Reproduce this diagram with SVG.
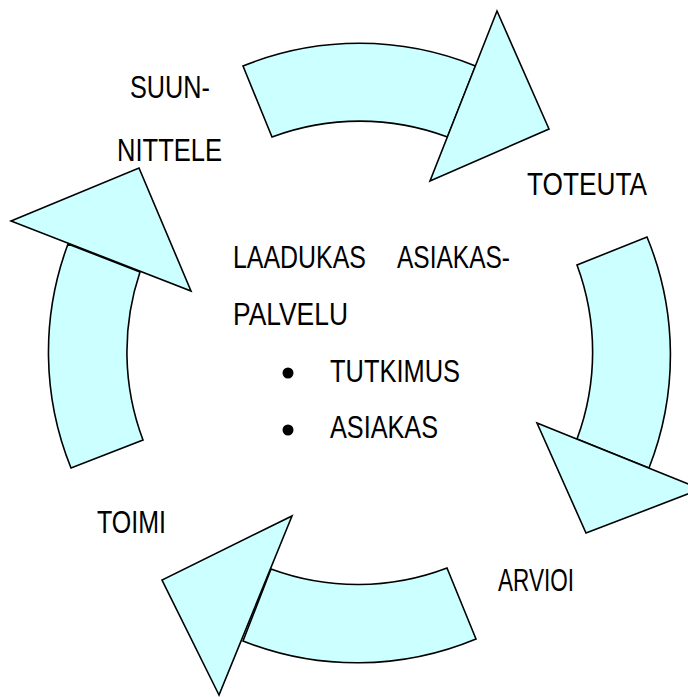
<svg xmlns="http://www.w3.org/2000/svg" width="688" height="697" viewBox="0 0 688 697">
<style>
.arrow{fill:#CCFFFF;stroke:#000;stroke-width:1.6;stroke-linejoin:miter}
.t{font-family:"Liberation Sans",Arial,sans-serif;font-size:32px;fill:#000}
</style>
<rect width="688" height="697" fill="#fff"/>
<g id="connectors">
<g id="arrow-top">
<path class="arrow" d="M243 66 A309 309 0 0 1 475.5 66 L447.5 137 A250 250 0 0 0 272 137 Z"/>
<path class="arrow" d="M497 11 L549 129 L430 181 Z"/>
</g>
<g id="arrow-right">
<path class="arrow" d="M647 237 A309 309 0 0 1 649 468 L577 439 A250 250 0 0 0 577 265 Z"/>
<path class="arrow" d="M701 489 L586 533 L537 423 Z"/>
</g>
<g id="arrow-bottom">
<path class="arrow" d="M476 639 A309 309 0 0 1 243 641 L271 569 A250 250 0 0 0 447 568 Z"/>
<path class="arrow" d="M219 695 L162 580 L292 516 Z"/>
</g>
<g id="arrow-left">
<path class="arrow" d="M71 468 A309 309 0 0 1 68 244 L140 272 A250 250 0 0 0 143 440 Z"/>
<path class="arrow" d="M11 221 L139 168 L191 291 Z"/>
</g>
</g>
<g id="node-suunnittele">
<text class="t" x="130" y="98" textLength="80" lengthAdjust="spacingAndGlyphs">SUUN-</text>
<text class="t" x="117" y="161" textLength="105" lengthAdjust="spacingAndGlyphs">NITTELE</text>
</g>
<g id="node-toteuta"><text class="t" x="527" y="195" textLength="120" lengthAdjust="spacingAndGlyphs">TOTEUTA</text></g>
<g id="node-arvioi"><text class="t" x="498" y="591" textLength="76" lengthAdjust="spacingAndGlyphs">ARVIOI</text></g>
<g id="node-toimi"><text class="t" x="97" y="533" textLength="69" lengthAdjust="spacingAndGlyphs">TOIMI</text></g>
<g id="node-center">
<text class="t" x="233" y="268" textLength="133" lengthAdjust="spacingAndGlyphs">LAADUKAS</text>
<text class="t" x="397" y="268" textLength="113" lengthAdjust="spacingAndGlyphs">ASIAKAS-</text>
<text class="t" x="233" y="325" textLength="115" lengthAdjust="spacingAndGlyphs">PALVELU</text>
<circle cx="288" cy="373" r="5.5" fill="#000"/>
<text class="t" x="330" y="382" textLength="130" lengthAdjust="spacingAndGlyphs">TUTKIMUS</text>
<circle cx="288" cy="430" r="5.5" fill="#000"/>
<text class="t" x="330" y="438" textLength="108" lengthAdjust="spacingAndGlyphs">ASIAKAS</text>
</g>
</svg>
